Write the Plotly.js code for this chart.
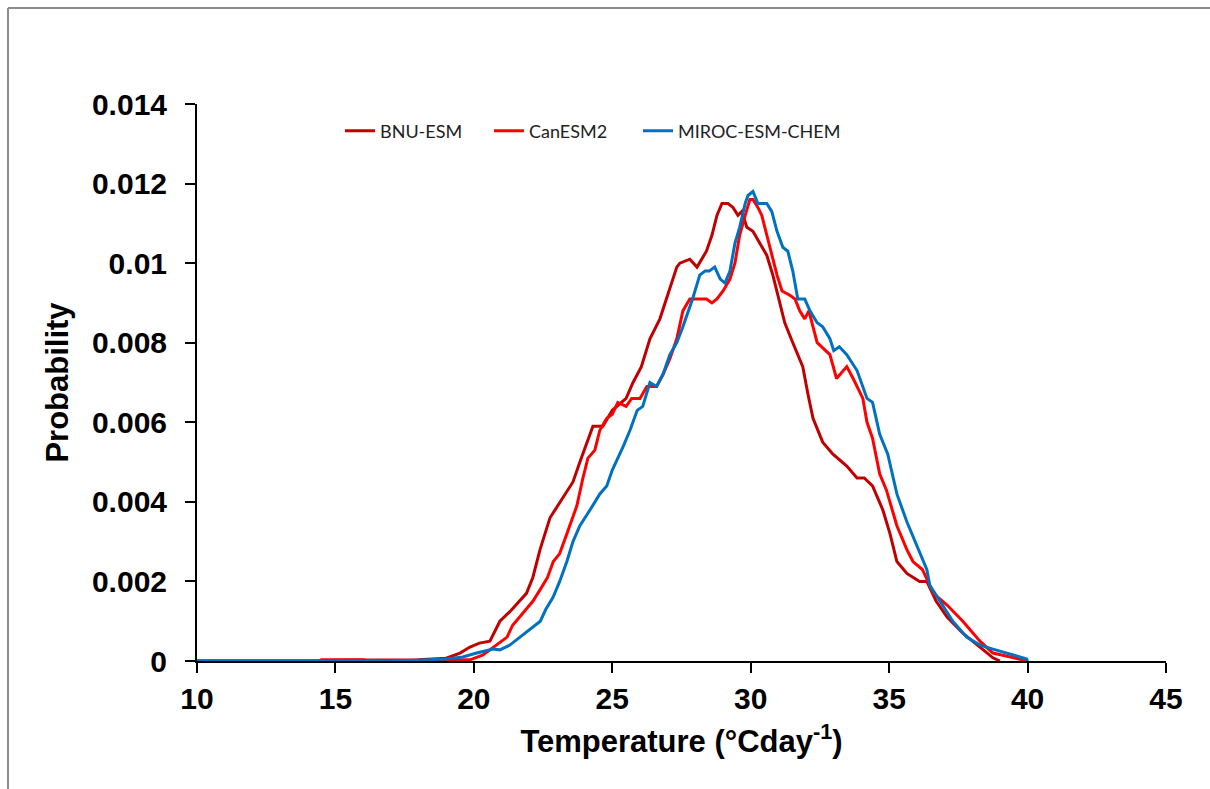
<!DOCTYPE html>
<html>
<head>
<meta charset="utf-8">
<script src="https://cdn.plot.ly/plotly-3.0.1.min.js"></script>
<style>
html,body{margin:0;padding:0;background:#fff;}
#chart{width:1210px;height:789px;}
</style>
</head>
<body>
<div id="chart"></div>
<script>
// Temperature (°C day^-1) vs probability
const bnuX = [10,14.5,15,17,18,19,19.5,19.86,20.2,20.58,20.94,21.3,21.66,21.9,22.13,22.39,22.75,23.2,23.58,23.83,24.08,24.3,24.66,25.0,25.5,25.75,26.05,26.36,26.72,27.08,27.33,27.44,27.8,28.06,28.24,28.4,28.6,28.78,28.96,29.18,29.36,29.54,29.68,29.86,30.08,30.33,30.58,30.8,31.05,31.23,31.52,31.88,32.07,32.25,32.6,32.97,33.47,33.84,34.1,34.4,34.77,35.03,35.28,35.64,36.1,36.36,36.7,37.1,37.66,38.28,38.75,39.0];
const bnuY = [0,0,0.00002,0.00002,0.00003,0.00007,0.0002,0.00035,0.00045,0.0005,0.001,0.00124,0.00153,0.0017,0.0021,0.0028,0.0036,0.0041,0.0045,0.0050,0.0055,0.0059,0.0059,0.0063,0.0066,0.0070,0.0074,0.0081,0.0086,0.0094,0.0099,0.0100,0.0101,0.0099,0.0101,0.0103,0.0107,0.0112,0.0115,0.0115,0.0114,0.0112,0.0113,0.0109,0.0108,0.0105,0.0102,0.0097,0.0090,0.0085,0.0080,0.0074,0.0067,0.0061,0.0055,0.0052,0.0049,0.0046,0.0046,0.0044,0.0038,0.0032,0.0025,0.0022,0.0020,0.0020,0.0015,0.0011,0.0007,0.00035,0.00008,0];

const canX = [10,14.4,14.5,16,16.2,18.8,19.5,19.86,20.33,20.83,21.2,21.4,21.77,22.13,22.4,22.66,22.87,23.1,23.36,23.72,23.94,24.12,24.37,24.55,24.8,25.0,25.2,25.5,25.7,26.0,26.25,26.6,26.83,27.08,27.33,27.55,27.8,28.16,28.4,28.6,28.78,29.0,29.25,29.43,29.6,29.8,29.97,30.08,30.26,30.4,30.58,30.76,30.95,31.13,31.4,31.6,31.77,31.95,32.1,32.4,32.86,33.1,33.47,33.7,34.05,34.2,34.4,34.66,34.9,35.28,35.64,35.86,36.2,36.6,37.1,37.66,38.28,38.75,39.47,40.0];
const canY = [0,0,0.00003,0.00003,0,0.00002,0.00002,0.00003,0.00015,0.0004,0.0006,0.0009,0.0012,0.0015,0.0018,0.0021,0.0025,0.0027,0.0032,0.0039,0.0046,0.0051,0.0053,0.0058,0.0061,0.0062,0.0065,0.0064,0.0066,0.0066,0.0069,0.0069,0.0072,0.0076,0.0081,0.0088,0.0091,0.0091,0.0091,0.0090,0.0091,0.0093,0.0096,0.0100,0.0107,0.0112,0.0116,0.0116,0.0114,0.0112,0.0107,0.0102,0.0097,0.0093,0.0092,0.0091,0.0088,0.0086,0.0088,0.0080,0.0077,0.0071,0.0074,0.0071,0.0066,0.0060,0.0056,0.0047,0.0043,0.0034,0.0028,0.0025,0.0023,0.0017,0.0014,0.0010,0.0005,0.0002,0.00008,0];

const mirX = [10,17,18,19,19.6,20.1,20.7,20.94,21.3,21.66,22.0,22.4,22.6,22.86,23.1,23.36,23.58,23.83,24.2,24.55,24.8,25.0,25.4,25.64,25.9,26.1,26.36,26.6,26.83,27.08,27.33,27.55,27.9,28.16,28.35,28.5,28.7,28.9,29.07,29.25,29.43,29.6,29.8,29.9,30.08,30.26,30.44,30.58,30.76,30.95,31.16,31.34,31.52,31.7,31.95,32.14,32.4,32.6,32.86,33.0,33.2,33.47,33.84,34.05,34.2,34.4,34.66,34.95,35.28,35.64,36.0,36.36,36.47,36.83,37.3,37.8,38.28,38.75,39.25,39.97,40.0];
const mirY = [0,0,0.00002,0.00005,0.0001,0.0002,0.0003,0.00028,0.0004,0.0006,0.0008,0.001,0.0013,0.0016,0.0020,0.0025,0.0030,0.0034,0.0038,0.0042,0.0044,0.0048,0.0054,0.0058,0.0063,0.0064,0.0070,0.0069,0.0072,0.0077,0.0080,0.0084,0.0091,0.0097,0.0098,0.0098,0.0099,0.0096,0.0095,0.0098,0.0105,0.0109,0.0115,0.0117,0.0118,0.0115,0.0115,0.0115,0.0113,0.0108,0.0104,0.0103,0.0098,0.0091,0.0091,0.0088,0.0085,0.0084,0.0081,0.0078,0.0079,0.0077,0.0073,0.0069,0.0066,0.0065,0.0057,0.0052,0.0042,0.0035,0.0029,0.0023,0.0019,0.0015,0.0010,0.0006,0.0004,0.0003,0.0002,0.00005,0];

const seriesNames = ["BNU-ESM","CanESM2","MIROC-ESM-CHEM"];
const seriesColors = ["#C00000","#FF0000","#0070C0"];
const yTickVals = [0,0.002,0.004,0.006,0.008,0.01,0.012,0.014];
const yTickText = ["0","0.002","0.004","0.006","0.008","0.01","0.012","0.014"];
const xTickVals = [10,15,20,25,30,35,40,45];

const xs = [bnuX, canX, mirX];
const ys = [bnuY, canY, mirY];
const legendWidths = [104, 104, 180];
const traces = seriesNames.map((n,i)=>({
  x: xs[i], y: ys[i], name: n, type: 'scatter', mode: 'lines',
  legendwidth: legendWidths[i],
  line: {color: seriesColors[i], width: 3, shape: 'linear'}
}));

const W = 1210, H = 789, L = 197, R = 44, T = 104, B = 128;
const pw = W - L - R, ph = H - T - B;
const px = v => (v - L) / pw;
const py = v => (H - B - v) / ph;

const layout = {
  width: W, height: H,
  margin: {l: L, r: R, t: T, b: B},
  paper_bgcolor: '#fff', plot_bgcolor: '#fff',
  font: {family: 'Liberation Sans, Arial, sans-serif', color: '#000'},
  showlegend: true,
  legend: {
    orientation: 'h', x: px(340), y: py(131), xanchor: 'left', yanchor: 'middle',
    font: {family: 'Lato, sans-serif', size: 18, color: '#222'},
    bgcolor: 'rgba(0,0,0,0)'
  },
  xaxis: {
    range: [10, 45], tickvals: xTickVals, ticks: 'outside', ticklen: 10, tickwidth: 2,
    tickcolor: '#000', showline: true, linecolor: '#000', linewidth: 2,
    showgrid: false, zeroline: false,
    tickfont: {family: 'Liberation Sans, Arial, sans-serif', size: 30, weight: 'bold'},
    title: {text: '<b>Temperature (°Cday<sup>-1</sup>)</b>', font: {size: 31}, standoff: 16}
  },
  yaxis: {
    range: [0, 0.014], tickvals: yTickVals, ticktext: yTickText, ticks: 'outside', ticklen: 10, tickwidth: 2,
    tickcolor: '#000', showline: true, linecolor: '#000', linewidth: 2,
    showgrid: false, zeroline: false, ticklabelstandoff: 12,
    tickfont: {family: 'Liberation Sans, Arial, sans-serif', size: 30, weight: 'bold'},
    title: {text: '<b>Probability</b>', font: {size: 31}, standoff: 14}
  },
  shapes: [
    {type: 'line', xref: 'paper', yref: 'paper', x0: px(8), x1: px(8), y0: py(8), y1: py(800), line: {color: '#8c8c8c', width: 2}},
    {type: 'line', xref: 'paper', yref: 'paper', x0: px(8), x1: px(1220), y0: py(8), y1: py(8), line: {color: '#8c8c8c', width: 2}}
  ]
};

Plotly.newPlot('chart', traces, layout, {displayModeBar: false, staticPlot: true});
</script>
</body>
</html>
